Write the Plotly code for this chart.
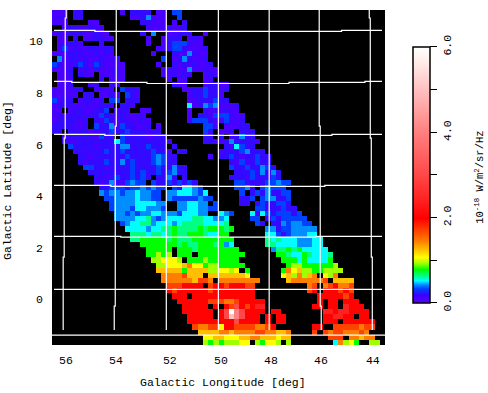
import plotly.graph_objects as go

# Brightness levels used in the rows below, in 1e-18 W/m2/sr/Hz ('.' = no data)
LEVELS = dict(a=0.10, b=0.20, c=0.33, d=0.43, e=0.52, f=0.64, g=0.78, h=0.93, i=1.07,
              j=1.25, k=1.45, l=1.7, m=2.0, n=2.4, o=3.0, p=4.0, q=5.0, r=6.0)

ROWS = [
"aaa.bb.......a.bbbb.aa.cc",
"aba.bb.........aabdaaa..c",
"aaa....aa........bbaaa.a.b",
"..abbaabaa........aaaabaab",
"ababbbaabaa......b.d..aabbb..a",
".aa.b.aabbaa......a..abbb.aba",
".aabba...b........a..abcccbaa",
".acabaabbabb........aabccbaaab",
"aaabbbaababa.......a...baadbaa",
".dabbabaabaab........c.abdbaab",
"cbaabcbacbaaaa......a..bababaab",
"aaab.ababaaaba.......abaaadaabaa",
".aab.baa.aaaba.......aababa..aba",
".aaa.....b.aaa........a.aa...aa",
".aab...ab..ba..........baa...abbaa",
"aaaabb..abab.cbbb........aabbcbbab",
"aaaaa.bb.aaba.cba.........abbcbba",
"cabb.abbab.cc.bbb.........aabbbcbb",
"abbbaabaabba.bba..........eabdcdaaab",
"aa.abbaabbc.abb..aa.......a..baaabaa",
"ababbbabbcbabbaaba........a.bbacccbaa",
"abbbbab.bacbabbaaba.......acccbaacaab",
"bbbbaab.cbbdacbbaab.a........cca.aaabb",
"bb.bbbbaabbcbbcbbbabb........cb.aab.bbb",
"..abbbbbacbb.cbbbbaabb.......bb.b.abdbb",
"..baabbbbbbbecbbbbbbbba......bbaabdbbbba",
"...cbbbbabbbbddbbbcbbb.b.........baecbb",
"....bbabbbcbbcbbbbbcbba.bb......abbbcdbbb",
".....bbabbbbbbcbbbbcdcbb......a.bbcbabbcbb",
".....babbbcbbdbcbbbcdcbb..........bacabcbb",
"......ccbbabbbbcbbbbcbbdbb........cbbcbbdcb",
".......bbbbbbbbcbcbbcbcdbb.........bbbcbdbdb",
"........bbabcbbcbcb.bbdb.b........bbbacbbbcb",
"........babdbacdcc.cbbcbcbcb.......ccbbbbccdcc",
".........bbcccbccdcdcc.cbeedc......ccdb.cdccc",
".........dcddcddeddcc.ddeeedce......c.bcbdbbcc",
"..........ccddddeddcc.dcccccdcc.....bbc.cddbbc",
"...........cddddeeeedd..ddeedd.c....bb.bcbbccb",
"...........cdddceedddc..ddeeddcc.......ccbbbcbb",
"............ddcdcddeedddceeedd..edc...eaecbcccbc",
"............ddddeefdcdeeeeeffeedde....cc.bcbccccc",
".............cdeeffdeeedeffffeeeef.....cb.bbdcddcc",
"..............eeeedeeffgffffgfgggfg......ddbccddddd",
"...............fffeffefgffgggfeegg.......eecbcdddee",
"...............ffgggggfgfffgggggggg......fefeeedddee",
".................gggggggfgffgggfgde......ffeeeedddee",
"..................ggggg.gggfgggggggg......dffgfgeeeee",
"..................gghgh.ggg.ggggggggg......ggfeegfeeef",
"...................hhiiih.ggghgggggg........gggegeeeeg",
"....................hhiiijkiighhggggg........ghhggggggh",
"....................jjjjjgjjjjhhiihi.g......gkijhhgghhhh",
".....................kkkkljjj.jjjjjjji......ijhkhjk.ihk",
".....................kkkkkkjllk.kkkkkkkk.....jkkkkkkl.jjjj",
"......................lllmmmm.lmmlmmmll..........kl.klmkkl",
"......................mlmmmmmmlmmmmmmmm..........lm.mmmlml",
".......................mmm.mmmmmmmmmmmm............mmmmmlm",
"........................mmmmmmlllkklmmmmm..........m.mm.mmm",
".........................mmmmm.m.mlomlmnn.........mm.mm.nmmm",
".........................mmmmmm.morpommmm.mm........nnmnnmmmm",
"..........................mmmmm.moqpommm.m.mm.......mmnnmm.mm",
"..........................mmmmmmmmmommmm.m.mm.......mmm.mmmmmm",
"...........................lkkllimmllllkklm.......mm..lllllkll",
"............................jjjjkkjkkkkllkkjjk....l.lkllkkklk",
".............................iijjiiijjkkjjjijj.......lll.kkjkk",
".............................hghghhhii.hgiih.h........ekhig..hh",
]

# Grid positions in degrees: [longitude, latitude] for each graticule line
LON_LINES = [
    ([55.96, 55.96, 56.00, 56.00, 56.04, 56.04, 56.08, 56.08], [10.83, 10.52, 10.52, 5.86, 5.86, 1.25, 1.25, -1.58]),
    ([53.99, 53.99, 54.03, 54.03, 54.07, 54.07], [10.83, 6.33, 6.33, -0.65, -0.65, -1.58]),
    ([52.02, 52.02], [10.83, -1.58]),
    ([49.97, 49.97], [10.83, -1.58]),
    ([47.97, 47.97], [10.83, -1.58]),
    ([46.00, 46.00, 45.96, 45.96, 45.92, 45.92], [10.83, 6.33, 6.33, -0.65, -0.65, -1.58]),
    ([44.03, 44.03, 43.99, 43.99, 43.95, 43.95, 43.91, 43.91], [10.83, 10.52, 10.52, 5.86, 5.86, 1.25, 1.25, -1.58]),
]
LAT_LINES = [
    ([56.44, 54.83, 54.83, 45.12, 45.12, 43.53], [10.04, 10.04, 10.00, 10.00, 10.04, 10.04]),
    ([56.44, 55.74, 55.74, 52.78, 52.78, 47.19, 47.19, 44.20, 44.20, 43.53], [8.06, 8.06, 8.02, 8.02, 7.98, 7.98, 8.02, 8.02, 8.06, 8.06]),
    ([56.44, 54.44, 54.44, 45.50, 45.50, 43.53], [6.01, 6.01, 5.97, 5.97, 6.01, 6.01]),
    ([56.44, 54.20, 54.20, 45.78, 45.78, 43.53], [4.03, 4.03, 3.99, 3.99, 4.03, 4.03]),
    ([56.44, 53.81, 53.81, 46.13, 46.13, 43.53], [2.05, 2.05, 2.02, 2.02, 2.05, 2.05]),
    ([56.44, 43.53], [0.00, 0.00]),
    ([56.52, 43.41], [-1.78, -1.78]),
]

X_TICK_POS = [55.97, 54.0, 51.88, 49.87, 47.9, 45.93, 43.89]
X_TICK_TEXT = ["56", "54", "52", "50", "48", "46", "44"]
Y_TICK_POS = [10, 8, 6, 4, 2, 0]
Y_TICK_TEXT = ["10", "8", "6", "4", "2", "0"]
CB_TICK_POS = [0, 1, 2, 3, 4, 5, 6]
CB_TICK_TEXT = ["0.0", "", "2.0", "", "4.0", "", "6.0"]

COLORSCALE = [
    [0.000, "#5a00ff"], [0.030, "#3c00ff"], [0.055, "#0040ff"], [0.072, "#0090ff"],
    [0.087, "#00ffff"], [0.107, "#00ff80"], [0.130, "#00ff00"], [0.155, "#a0ff00"],
    [0.178, "#ffff00"], [0.208, "#ffc000"], [0.240, "#ff8000"], [0.285, "#ff4000"],
    [0.330, "#ff0000"], [0.400, "#ff2020"], [0.500, "#ff4848"], [0.667, "#ff8080"],
    [0.833, "#ffc0c0"], [0.960, "#fff4f0"], [1.000, "#ffffff"],
]

FONT = "Liberation Mono"
SIZE = 11.5
z = [[LEVELS.get(ch) for ch in row.ljust(64, ".")] for row in ROWS]

fig = go.Figure()
fig.add_trace(go.Heatmap(
    z=z, x0=56.52 - 0.1024, dx=-0.2047, y0=10.83 - 0.0999, dy=-0.1998,
    zmin=0, zmax=6, colorscale=COLORSCALE, zsmooth=False, hoverongaps=False,
    colorbar=dict(
        thickness=17, thicknessmode="pixels", len=256, lenmode="pixels",
        x=1.0841, xanchor="left", xref="paper", y=0.8896, yanchor="top", yref="paper",
        outlinecolor="black", outlinewidth=1.5, tickmode="array",
        tickvals=CB_TICK_POS, ticktext=CB_TICK_TEXT, ticks="outside", ticklen=7,
        tickcolor="black", tickangle=-90, tickfont=dict(family=FONT, size=SIZE, color="black"),
        xpad=0, ypad=0,
    ),
))
for lons, lats in LON_LINES + LAT_LINES:
    fig.add_trace(go.Scatter(x=lons, y=lats, mode="lines", showlegend=False, hoverinfo="skip",
                             line=dict(color="white", width=1.2)))

fig.update_xaxes(range=[56.52, 43.41], showgrid=False, zeroline=False, showline=False, ticks="",
                 tickmode="array", tickvals=X_TICK_POS, ticktext=X_TICK_TEXT, ticklabelstandoff=6,
                 tickfont=dict(family=FONT, size=SIZE, color="black"))
fig.update_yaxes(range=[-2.16, 10.83], showgrid=False, zeroline=False, showline=False, ticks="",
                 tickmode="array", tickvals=Y_TICK_POS, ticktext=Y_TICK_TEXT, ticklabelshift=10,
                 ticklabelstandoff=8, tickfont=dict(family=FONT, size=SIZE, color="black"))
fig.update_layout(
    width=488, height=393, margin=dict(l=52, r=103, t=10, b=48),
    paper_bgcolor="white", plot_bgcolor="black", showlegend=False,
    font=dict(family=FONT, size=SIZE, color="black"),
    annotations=[
        dict(text="Galactic Longitude [deg]", xref="paper", yref="paper", x=0.514, y=-0.113,
             yanchor="middle", xanchor="center", showarrow=False),
        dict(text="Galactic Latitude [deg]", xref="paper", yref="paper", x=-0.132, y=0.49,
             textangle=-90, yanchor="middle", xanchor="center", showarrow=False),
        dict(text="10<sup>-18</sup> W/m<sup>2</sup>/sr/Hz", xref="paper", yref="paper", x=1.283, y=0.5,
             textangle=-90, yanchor="middle", xanchor="center", showarrow=False, font=dict(size=10.5)),
    ],
)
fig.write_html("out.html", config=dict(displayModeBar=False),
               post_script="document.body.style.margin='0';document.documentElement.style.overflow='hidden';")
